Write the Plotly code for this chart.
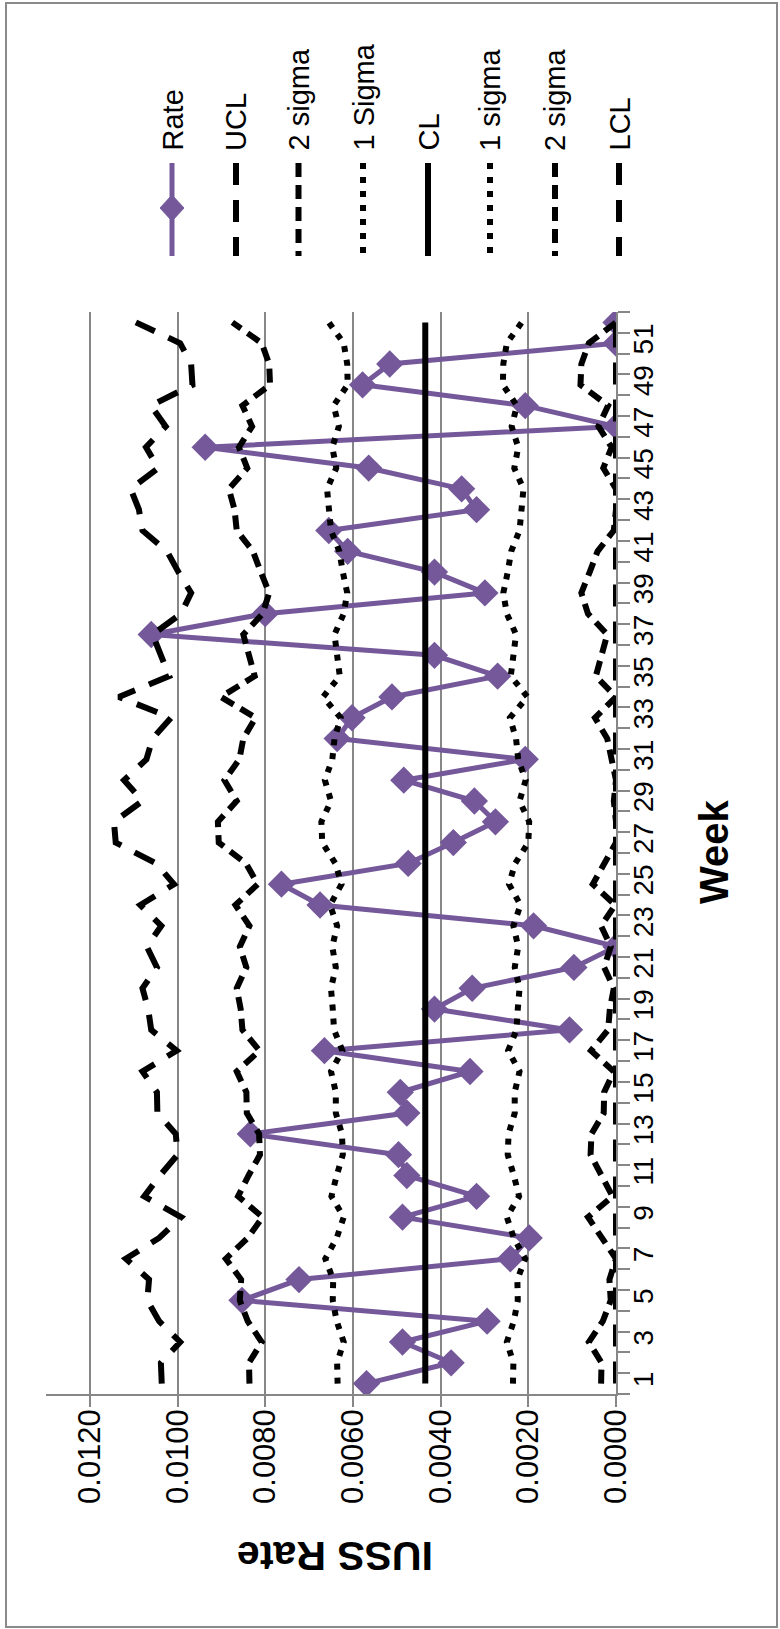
import plotly.graph_objects as go

weeks = list(range(1, 53))

rate = [0.00569, 0.00376, 0.00487, 0.00294, 0.00853, 0.00723, 0.00241, 0.00198, 0.00487, 0.00318,
        0.00477, 0.00496, 0.00834, 0.00477, 0.00492, 0.00333, 0.00665, 0.00106, 0.00414, 0.00328,
        0.00096, 0.00000, 0.00188, 0.00675, 0.00763, 0.00474, 0.00371, 0.00275, 0.00323, 0.00484,
        0.00207, 0.00636, 0.00602, 0.00511, 0.00270, 0.00414, 0.01060, 0.00800, 0.00299, 0.00414,
        0.00612, 0.00655, 0.00318, 0.00352, 0.00564, 0.00937, 0.00000, 0.00207, 0.00578, 0.00516,
        0.00000, 0.00000]

ucl = [0.01036, 0.01038, 0.00994, 0.01042, 0.01069, 0.01065, 0.01118, 0.01042, 0.00992, 0.01076,
       0.01040, 0.01000, 0.01004, 0.01046, 0.01047, 0.01080, 0.01002, 0.01060, 0.01067, 0.01080,
       0.01047, 0.01070, 0.01037, 0.01085, 0.01008, 0.01049, 0.01141, 0.01145, 0.01080, 0.01122,
       0.01071, 0.01057, 0.01015, 0.01134, 0.01019, 0.01038, 0.01057, 0.00992, 0.00969, 0.00998,
       0.01024, 0.01080, 0.01088, 0.01107, 0.01044, 0.01072, 0.01027, 0.01061, 0.00966, 0.00969,
       0.00994, 0.01095]

upper2 = [0.00836, 0.00837, 0.00808, 0.00840, 0.00858, 0.00855, 0.00890, 0.00840, 0.00806, 0.00862,
          0.00838, 0.00812, 0.00814, 0.00842, 0.00843, 0.00865, 0.00813, 0.00852, 0.00856, 0.00865,
          0.00843, 0.00858, 0.00836, 0.00868, 0.00817, 0.00844, 0.00906, 0.00908, 0.00865, 0.00893,
          0.00859, 0.00850, 0.00822, 0.00901, 0.00824, 0.00837, 0.00850, 0.00806, 0.00791, 0.00810,
          0.00828, 0.00865, 0.00870, 0.00883, 0.00841, 0.00860, 0.00830, 0.00852, 0.00789, 0.00791,
          0.00808, 0.00875]

upper1 = [0.00635, 0.00636, 0.00621, 0.00637, 0.00646, 0.00645, 0.00663, 0.00637, 0.00621, 0.00649,
          0.00637, 0.00623, 0.00625, 0.00639, 0.00639, 0.00650, 0.00624, 0.00643, 0.00646, 0.00650,
          0.00639, 0.00647, 0.00636, 0.00652, 0.00626, 0.00640, 0.00670, 0.00672, 0.00650, 0.00664,
          0.00647, 0.00642, 0.00628, 0.00668, 0.00630, 0.00636, 0.00642, 0.00621, 0.00613, 0.00623,
          0.00631, 0.00650, 0.00653, 0.00659, 0.00638, 0.00647, 0.00632, 0.00644, 0.00612, 0.00613,
          0.00621, 0.00655]

cl = [0.00435] * 52

lower1 = [0.00235, 0.00234, 0.00249, 0.00233, 0.00224, 0.00225, 0.00207, 0.00233, 0.00249, 0.00221,
          0.00233, 0.00247, 0.00245, 0.00231, 0.00231, 0.00220, 0.00246, 0.00227, 0.00224, 0.00220,
          0.00231, 0.00223, 0.00234, 0.00218, 0.00244, 0.00230, 0.00200, 0.00198, 0.00220, 0.00206,
          0.00223, 0.00228, 0.00242, 0.00202, 0.00240, 0.00234, 0.00228, 0.00249, 0.00257, 0.00247,
          0.00239, 0.00220, 0.00217, 0.00211, 0.00232, 0.00223, 0.00238, 0.00226, 0.00258, 0.00257,
          0.00249, 0.00215]

lower2 = [0.00034, 0.00033, 0.00062, 0.00030, 0.00012, 0.00015, 0.00000, 0.00030, 0.00064, 0.00008,
          0.00032, 0.00058, 0.00056, 0.00028, 0.00027, 0.00005, 0.00057, 0.00018, 0.00014, 0.00005,
          0.00027, 0.00012, 0.00034, 0.00002, 0.00053, 0.00026, 0.00000, 0.00000, 0.00005, 0.00000,
          0.00011, 0.00020, 0.00048, 0.00000, 0.00046, 0.00033, 0.00020, 0.00064, 0.00079, 0.00060,
          0.00042, 0.00005, 0.00000, 0.00000, 0.00029, 0.00010, 0.00040, 0.00018, 0.00081, 0.00079,
          0.00062, 0.00000]

lcl = [0.0] * 52

rate_ticks = [0.0, 0.002, 0.004, 0.006, 0.008, 0.010, 0.012]
rate_tick_text = ["0.0000", "0.0020", "0.0040", "0.0060", "0.0080", "0.0100", "0.0120"]
week_ticks = list(range(1, 52, 2))
week_tick_text = [str(w) for w in week_ticks]

legend_names = ["Rate", "UCL", "2 sigma", "1 Sigma", "CL", "1 sigma", "2 sigma", "LCL"]

PURPLE = "#74589a"
GRID = "#878787"
FONT = "Liberation Sans, Arial, sans-serif"

styles = {
    "long": dict(color="black", width=6, dash="22px,15px"),
    "dash": dict(color="black", width=6, dash="14px,8px"),
    "dot": dict(color="black", width=6, dash="6px,8px"),
    "solid": dict(color="black", width=6, dash="solid"),
}

fig = go.Figure()
fig.add_trace(go.Scatter(x=rate, y=weeks, mode="lines+markers", name="Rate",
                         line=dict(color=PURPLE, width=5),
                         marker=dict(symbol="diamond", size=21, color=PURPLE)))
series = [(ucl, "UCL", "long"), (upper2, "2 sigma", "dash"), (upper1, "1 Sigma", "dot"),
          (cl, "CL", "solid"), (lower1, "1 sigma", "dot"), (lower2, "2 sigma", "dash"),
          (lcl, "LCL", "long")]
for vals, name, st in series:
    fig.add_trace(go.Scatter(x=vals, y=weeks, mode="lines", name=name, line=styles[st]))

# plot area geometry (px)
L, R, T, B = 46, 164, 312, 235
W, H = 780 - L - R, 1629 - T - B

def px(xp):
    return (xp - L) / W

def py(yp):
    return (1629 - B - yp) / H

# legend (manual, rotated)
leg_x = [172, 236, 298.5, 363, 428, 490, 555, 619]
leg_styles = [None, "long", "dash", "dot", "solid", "dot", "dash", "long"]
shapes = []
annotations = []
for name, xx, st in zip(legend_names, leg_x, leg_styles):
    annotations.append(dict(text=name, x=px(xx), y=py(153), xref="paper", yref="paper",
                            xanchor="center", yanchor="bottom", showarrow=False, textangle=-90,
                            font=dict(family=FONT, size=29, color="black")))
    if st is None:
        shapes.append(dict(type="line", xref="paper", yref="paper", x0=px(xx), x1=px(xx),
                           y0=py(163), y1=py(256), line=dict(color=PURPLE, width=5)))
        cx, cy = px(xx), py(208)
        dx, dy = 12 / W, 13 / H
        shapes.append(dict(type="path", xref="paper", yref="paper",
                           path=f"M {cx-dx},{cy} L {cx},{cy+dy} L {cx+dx},{cy} L {cx},{cy-dy} Z",
                           fillcolor=PURPLE, line=dict(color=PURPLE, width=1)))
    else:
        shapes.append(dict(type="line", xref="paper", yref="paper", x0=px(xx), x1=px(xx),
                           y0=py(163), y1=py(256), line=styles[st]))

# outer border
shapes.append(dict(type="rect", xref="paper", yref="paper", x0=px(6), x1=px(777),
                   y0=py(1627), y1=py(3), line=dict(color="#8a8a8a", width=2), layer="below"))

annotations.append(dict(text="<b>Week</b>", x=px(714), y=py(852), xref="paper", yref="paper",
                        xanchor="center", yanchor="middle", showarrow=False, textangle=-90,
                        font=dict(family=FONT, size=40, color="black")))
annotations.append(dict(text="<b>IUSS Rate</b>", x=px(335), y=py(1556), xref="paper", yref="paper",
                        xanchor="center", yanchor="middle", showarrow=False, textangle=180,
                        font=dict(family=FONT, size=41, color="black")))

fig.update_layout(
    width=780, height=1629,
    margin=dict(l=L, r=R, t=T, b=B, pad=0),
    paper_bgcolor="white", plot_bgcolor="white",
    showlegend=False,
    shapes=shapes, annotations=annotations,
    xaxis=dict(range=[0.013, 0], tickmode="array", tickvals=rate_ticks, ticktext=rate_tick_text,
               tickangle=-90, ticks="outside", ticklen=11, tickwidth=1.5, tickcolor=GRID,
               showgrid=True, gridcolor=GRID, gridwidth=1.5, showline=True, linecolor=GRID,
               linewidth=1.5, zeroline=False, ticklabelstandoff=-10,
               tickfont=dict(family=FONT, size=31, color="black")),
    yaxis=dict(range=[0.5, 52.5], side="right", tickmode="array", tickvals=week_ticks,
               ticktext=week_tick_text, tickangle=-90, ticks="", showgrid=False,
               showline=True, linecolor=GRID, linewidth=1.5, zeroline=False,
               ticklabelstandoff=2,
               minor=dict(tickmode="array", tickvals=[w - 0.5 for w in weeks] + [52.5],
                          ticks="outside", ticklen=12, tickwidth=1.5, tickcolor=GRID,
                          showgrid=False),
               tickfont=dict(family=FONT, size=28, color="black")),
)

fig.write_html("out.html")
